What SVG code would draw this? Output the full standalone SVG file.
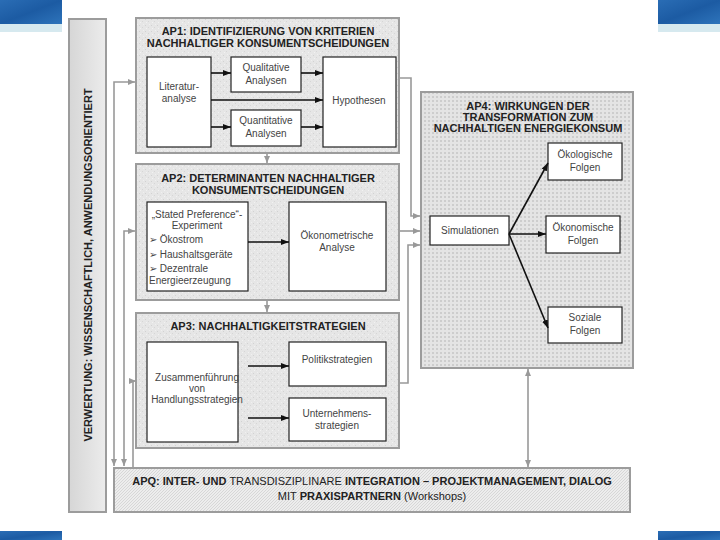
<svg xmlns="http://www.w3.org/2000/svg" width="720" height="540" viewBox="0 0 720 540">
<style>
.ap{stroke:#9c9c9c;stroke-width:2}
.in{fill:#fff;stroke:#222;stroke-width:1.2}
.t{font-family:"Liberation Sans",Arial,sans-serif;font-weight:bold;font-size:11px;fill:#222;text-anchor:middle}
.n{font-family:"Liberation Sans",Arial,sans-serif;font-size:10px;fill:#444;text-anchor:middle}
.nl{font-family:"Liberation Sans",Arial,sans-serif;font-size:10px;fill:#444}
.g{fill:none;stroke:#999;stroke-width:1.6}
.k{fill:none;stroke:#111;stroke-width:1.6}
.blue{fill:url(#bg)}
.strip{fill:#d6e9ef}
</style>
<defs>
<linearGradient id="bg" x1="0" y1="0" x2="1" y2="1">
<stop offset="0" stop-color="#2a6db5"/><stop offset="0.5" stop-color="#1c5ba3"/><stop offset="1" stop-color="#2e74bb"/>
</linearGradient>
<linearGradient id="lg" x1="0" y1="0" x2="1" y2="0">
<stop offset="0" stop-color="#d6d6d6"/><stop offset="1" stop-color="#ececec"/>
</linearGradient>
<pattern id="noise" width="6" height="6" patternUnits="userSpaceOnUse">
<rect width="6" height="6" fill="#e6e6e6"/>
<rect x="1" y="1" width="1" height="1" fill="#d2d2d2"/>
<rect x="4" y="3" width="1" height="1" fill="#d6d6d6"/>
<rect x="2" y="4" width="1" height="1" fill="#f2f2f2"/>
<rect x="5" y="0" width="1" height="1" fill="#f0f0f0"/>
</pattern>
<pattern id="dots" width="4" height="4" patternUnits="userSpaceOnUse">
<rect width="4" height="4" fill="#e4e4e4"/>
<rect x="0" y="0" width="2" height="2" fill="#cdcdcd"/>
</pattern>
<pattern id="hatch" width="3" height="3" patternUnits="userSpaceOnUse">
<rect width="3" height="3" fill="#ededed"/>
<path d="M0,3 L3,0" stroke="#d2d2d2" stroke-width="0.8"/>
</pattern>
<marker id="ak" markerWidth="8" markerHeight="6" refX="8" refY="3" orient="auto-start-reverse" markerUnits="userSpaceOnUse">
<path d="M0,0 L8,3 L0,6 z" fill="#111"/>
</marker>
<marker id="ag" markerWidth="7" markerHeight="6" refX="7" refY="3" orient="auto-start-reverse" markerUnits="userSpaceOnUse">
<path d="M0,0 L7,3 L0,6 z" fill="#999"/>
</marker>
</defs>
<rect width="720" height="540" fill="#fff"/>
<g id="decor">
<rect class="blue" x="0" y="0" width="62" height="24"/>
<rect class="strip" x="0" y="24" width="62" height="8"/>
<rect class="blue" x="658" y="0" width="62" height="24"/>
<rect class="strip" x="658" y="24" width="62" height="8"/>
<rect class="blue" x="0" y="531" width="62" height="9"/>
<rect class="blue" x="658" y="531" width="62" height="9"/>
</g>
<g id="verwertung">
<rect x="69" y="19" width="37" height="493" fill="url(#lg)" stroke="#9c9c9c" stroke-width="2"/>
<text class="t" transform="translate(92,265) rotate(-90)">VERWERTUNG: WISSENSCHAFTLICH, ANWENDUNGSORIENTIERT</text>
</g>
<g id="ap1">
<rect class="ap" x="136" y="18" width="263" height="135" fill="url(#noise)"/>
<text class="t" x="268" y="35">AP1: IDENTIFIZIERUNG VON KRITERIEN</text>
<text class="t" x="268" y="47">NACHHALTIGER KONSUMENTSCHEIDUNGEN</text>
</g>
<g id="literaturanalyse">
<rect class="in" x="147" y="57" width="64" height="90"/>
<text class="n" x="179" y="90">Literatur-</text>
<text class="n" x="179" y="102">analyse</text>
</g>
<g id="qualitative">
<rect class="in" x="231" y="57" width="70" height="35"/>
<text class="n" x="266" y="71">Qualitative</text>
<text class="n" x="266" y="84">Analysen</text>
</g>
<g id="quantitative">
<rect class="in" x="231" y="110" width="70" height="36"/>
<text class="n" x="266" y="124">Quantitative</text>
<text class="n" x="266" y="137">Analysen</text>
</g>
<g id="hypothesen">
<rect class="in" x="323" y="57" width="73" height="90"/>
<text class="n" x="359" y="104">Hypothesen</text>
</g>
<g id="ap2">
<rect class="ap" x="136" y="164" width="263" height="136" fill="url(#noise)"/>
<text class="t" x="268" y="182">AP2: DETERMINANTEN NACHHALTIGER</text>
<text class="t" x="268" y="194">KONSUMENTSCHEIDUNGEN</text>
</g>
<g id="stated">
<rect class="in" x="147" y="202" width="101" height="89"/>
<text class="n" x="197" y="218">„Stated Preference“-</text>
<text class="n" x="197" y="229">Experiment</text>
<text class="nl" x="149" y="243">➢ Ökostrom</text>
<text class="nl" x="149" y="258">➢ Haushaltsgeräte</text>
<text class="nl" x="149" y="272">➢ Dezentrale</text>
<text class="nl" x="149" y="284">Energieerzeugung</text>
</g>
<g id="oekonometrische">
<rect class="in" x="289" y="202" width="97" height="89"/>
<text class="n" x="337" y="239">Ökonometrische</text>
<text class="n" x="337" y="251">Analyse</text>
</g>
<g id="ap3">
<rect class="ap" x="136" y="313" width="263" height="135" fill="url(#noise)"/>
<text class="t" x="268" y="330">AP3: NACHHALTIGKEITSTRATEGIEN</text>
</g>
<g id="zusammenfuehrung">
<rect class="in" x="147" y="342" width="91" height="100"/>
<text class="n" x="197" y="381">Zusammenführung</text>
<text class="n" x="197" y="392">von</text>
<text class="n" x="197" y="403">Handlungsstrategien</text>
</g>
<g id="politik">
<rect class="in" x="289" y="342" width="97" height="44"/>
<text class="n" x="337" y="363">Politikstrategien</text>
</g>
<g id="unternehmens">
<rect class="in" x="289" y="398" width="97" height="43"/>
<text class="n" x="337" y="417">Unternehmens-</text>
<text class="n" x="337" y="429">strategien</text>
</g>
<g id="ap4">
<rect class="ap" x="421" y="92" width="212" height="276" fill="url(#dots)"/>
<text class="t" x="528" y="110">AP4: WIRKUNGEN DER</text>
<text class="t" x="528" y="121">TRANSFORMATION ZUM</text>
<text class="t" x="528" y="132">NACHHALTIGEN ENERGIEKONSUM</text>
</g>
<g id="simulationen">
<rect class="in" x="430" y="216" width="79" height="29"/>
<text class="n" x="470" y="234">Simulationen</text>
</g>
<g id="oekologische">
<rect class="in" x="548" y="143" width="74" height="37"/>
<text class="n" x="585" y="158">Ökologische</text>
<text class="n" x="585" y="171">Folgen</text>
</g>
<g id="oekonomische">
<rect class="in" x="546" y="216" width="74" height="37"/>
<text class="n" x="583" y="231">Ökonomische</text>
<text class="n" x="583" y="244">Folgen</text>
</g>
<g id="soziale">
<rect class="in" x="548" y="307" width="74" height="36"/>
<text class="n" x="585" y="321">Soziale</text>
<text class="n" x="585" y="334">Folgen</text>
</g>
<g id="apq">
<rect class="ap" x="114" y="468" width="516" height="44" fill="url(#hatch)"/>
<text class="t" x="372" y="485" font-size="10">APQ: INTER- UND <tspan font-weight="normal">TRANSDISZIPLINARE</tspan> INTEGRATION – PROJEKTMANAGEMENT, DIALOG</text>
<text class="t" x="372" y="500" font-size="10"><tspan font-weight="normal">MIT</tspan> PRAXISPARTNERN <tspan font-weight="normal">(Workshops)</tspan></text>
</g>
<g id="connectors">
<path class="g" d="M135,82 H114 V466" marker-start="url(#ag)" marker-end="url(#ag)"/>
<path class="g" d="M135,231 H124 V466" marker-start="url(#ag)" marker-end="url(#ag)"/>
<path class="g" d="M133,467 V381 H136" marker-end="url(#ag)"/>
<path class="g" d="M267,154 V163" marker-end="url(#ag)"/>
<path class="g" d="M267,301 V312" marker-end="url(#ag)"/>
<path class="g" d="M400,78 H411 V216 H420" marker-end="url(#ag)"/>
<path class="g" d="M400,231 H420" marker-end="url(#ag)"/>
<path class="g" d="M400,383 H408 V245 H420" marker-end="url(#ag)"/>
<path class="g" d="M528,369 V467" marker-start="url(#ag)" marker-end="url(#ag)"/>
<path class="k" d="M211,73 H231" marker-end="url(#ak)"/>
<path class="k" d="M301,73 H323" marker-end="url(#ak)"/>
<path class="k" d="M211,100 H323" marker-end="url(#ak)"/>
<path class="k" d="M211,127 H231" marker-end="url(#ak)"/>
<path class="k" d="M301,127 H323" marker-end="url(#ak)"/>
<path class="k" d="M248,242 H289" marker-end="url(#ak)"/>
<path class="k" d="M248,366 H289" marker-end="url(#ak)"/>
<path class="k" d="M248,418 H289" marker-end="url(#ak)"/>
<path class="k" d="M509,234 L548,163" marker-end="url(#ak)"/>
<path class="k" d="M509,234 H546" marker-end="url(#ak)"/>
<path class="k" d="M509,234 L548,328" marker-end="url(#ak)"/>
</g>
</svg>
